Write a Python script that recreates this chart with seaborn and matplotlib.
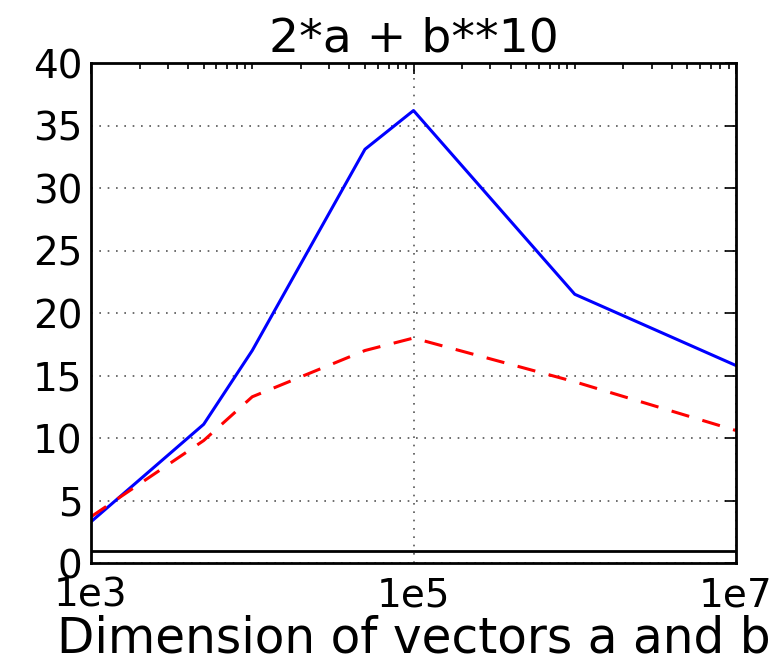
import numpy as np
import pandas as pd
import matplotlib
matplotlib.use("Agg")
import matplotlib.pyplot as plt
import matplotlib.ticker as mticker
import seaborn as sns

sns.set_style("white")
plt.rcParams['font.family'] = ['DejaVu Sans']
plt.rcParams['text.color'] = 'k'
plt.rcParams['xtick.color'] = 'k'
plt.rcParams['ytick.color'] = 'k'
plt.rcParams['axes.labelcolor'] = 'k'

# values
sizes = [1e3, 5e3, 1e4, 5e4, 1e5, 1e6, 1e7]
blue_vals = [3.3, 11.1, 17.0, 33.1, 36.2, 21.5, 15.8]
red_vals = [3.7, 9.8, 13.3, 17.0, 18.0, 14.5, 10.6]
tick_pos = [1e3, 1e5, 1e7]
tick_labels = ['1e3', '1e5', '1e7']

df = pd.DataFrame({'n': sizes + sizes,
                   'speedup': blue_vals + red_vals,
                   'series': ['blue'] * len(sizes) + ['red'] * len(sizes)})

fig = plt.figure(figsize=(7.81, 6.62), dpi=100)
ax = fig.add_axes([0.1165, 0.1495, 0.8259, 0.7553])

sns.lineplot(data=df[df.series == 'blue'], x='n', y='speedup', color='#0000ff',
             lw=2.2, ax=ax)
sns.lineplot(data=df[df.series == 'red'], x='n', y='speedup', color='#ff0000',
             lw=2.2, ax=ax, linestyle='--', dashes=False)
ax.lines[-1].set_dashes([6, 4.5])
ax.axhline(1, color='k', lw=2)

ax.set_xscale('log')
ax.set_xlim(1e3, 1e7)
ax.set_ylim(0, 40)
ax.xaxis.set_major_locator(mticker.FixedLocator(tick_pos))
ax.xaxis.set_major_formatter(mticker.FixedFormatter(tick_labels))
ax.xaxis.set_minor_locator(mticker.LogLocator(base=10, subs=np.arange(1, 10), numticks=100))
ax.xaxis.set_minor_formatter(mticker.NullFormatter())
ax.set_yticks(range(0, 41, 5))

ax.grid(True, which='major', linestyle=(0, (1, 4)), color='#555555', lw=1.2)
ax.tick_params(which='both', direction='in', top=True, right=True, labelsize=28)
ax.tick_params(axis='x', pad=10)
ax.tick_params(axis='y', pad=6)
ax.tick_params(which='major', length=8, width=1.2)
ax.tick_params(which='minor', length=4, width=1.2)
for s in ax.spines.values():
    s.set_color('k')
    s.set_linewidth(2)

ax.set_title('2*a + b**10', fontsize=34, pad=8)
ax.set_xlabel('Dimension of vectors a and b', fontsize=35, labelpad=0,
              ha='left', x=-0.052)
ax.set_ylabel('')

fig.savefig('out.png', dpi=100)
